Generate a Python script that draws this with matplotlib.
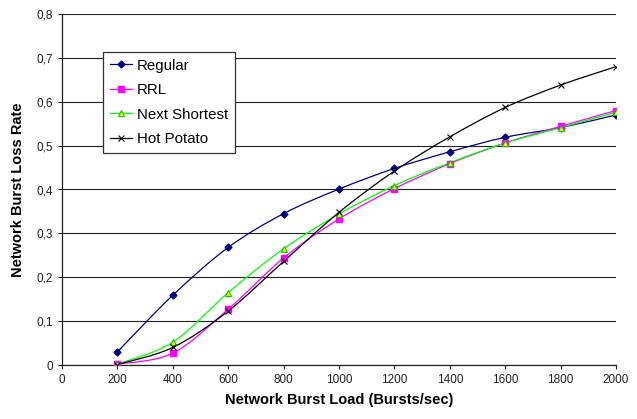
import numpy as np
import matplotlib
matplotlib.use("Agg")
import matplotlib.pyplot as plt
from matplotlib.path import Path
from matplotlib.patches import PathPatch
from matplotlib.ticker import FuncFormatter

plt.rcParams["font.family"] = ["Liberation Sans", "DejaVu Sans"]

load = [200, 400, 600, 800, 1000, 1200, 1400, 1600, 1800, 2000]
regular = [0.030, 0.159, 0.268, 0.345, 0.401, 0.448, 0.486, 0.519, 0.541, 0.570]
rrl = [0.002, 0.027, 0.127, 0.244, 0.333, 0.402, 0.459, 0.506, 0.544, 0.580]
next_shortest = [0.002, 0.052, 0.165, 0.265, 0.344, 0.409, 0.461, 0.506, 0.541, 0.576]
hot_potato = [0.001, 0.040, 0.123, 0.236, 0.348, 0.442, 0.520, 0.587, 0.638, 0.680]


def smooth_path(x, y):
    # Excel-style smoothed line: cubic Bezier segments through the points
    x = np.asarray(x, float)
    y = np.asarray(y, float)
    px = np.concatenate([[x[0]], x, [x[-1]]])
    py = np.concatenate([[y[0]], y, [y[-1]]])
    verts = [(x[0], y[0])]
    codes = [Path.MOVETO]
    t = 1 / 6
    for i in range(1, len(px) - 2):
        c1 = (px[i] + (px[i + 1] - px[i - 1]) * t, py[i] + (py[i + 1] - py[i - 1]) * t)
        c2 = (px[i + 1] - (px[i + 2] - px[i]) * t, py[i + 1] - (py[i + 2] - py[i]) * t)
        verts += [c1, c2, (px[i + 1], py[i + 1])]
        codes += [Path.CURVE4] * 3
    return Path(verts, codes)


fig = plt.figure(figsize=(6.37, 4.19), dpi=100)
ax = fig.add_axes([62 / 637, 54 / 419, 554 / 637, 351 / 419])

series = [
    ("Regular", regular, "#000080", dict(marker="D", ms=3.5, mfc="#000080", mec="#000080")),
    ("RRL", rrl, "#FF00FF", dict(marker="s", ms=4.5, mfc="#FF00FF", mec="#FF00FF")),
    ("Next Shortest", next_shortest, "#00FF00", dict(marker="^", ms=5, mfc="#FFFF00", mec="#00CC00", mew=0.8)),
    ("Hot Potato", hot_potato, "#000000", dict(marker="x", ms=4.5, mec="#000000", mew=0.8)),
]

for name, vals, col, mk in series:
    ax.add_patch(PathPatch(smooth_path(load, vals), fill=False, edgecolor=col, lw=0.9, zorder=3))
    ax.plot(load, vals, ls="none", zorder=4, **mk)
    ax.plot([], [], color=col, lw=0.9, label=name, **mk)

ax.set_xlim(0, 2000)
ax.set_ylim(0, 0.8)
ax.set_xticks(np.arange(0, 2001, 200))
ax.set_yticks(np.arange(0, 0.81, 0.1))
ax.yaxis.set_major_formatter(FuncFormatter(lambda v, p: "0" if abs(v) < 1e-9 else f"{v:.1f}".replace(".", ",")))
ax.grid(axis="y", color="#222222", lw=0.8)
ax.set_axisbelow(True)
for s in ("top", "right"):
    ax.spines[s].set_visible(False)
for s in ("left", "bottom"):
    ax.spines[s].set_color("#222222")
    ax.spines[s].set_linewidth(0.9)
ax.tick_params(axis="both", labelsize=8.5, length=3, width=0.8, color="#222222", direction="out",
               labelcolor="#222222")

ax.set_xlabel("Network Burst Load (Bursts/sec)", fontsize=10.5, fontweight="bold", labelpad=5)
ax.set_ylabel("Network Burst Loss Rate", fontsize=10.5, fontweight="bold", labelpad=8)

leg = ax.legend(loc="upper left", bbox_to_anchor=(41 / 554, 1 - 38 / 351), fontsize=10.8,
                frameon=True, fancybox=False, edgecolor="#333333", framealpha=1,
                handlelength=1.5, handletextpad=0.3, borderpad=0.45, labelspacing=0.7,
                borderaxespad=0)
leg.get_frame().set_linewidth(0.9)
leg.set_zorder(5)

fig.savefig("out.png", dpi=100)
